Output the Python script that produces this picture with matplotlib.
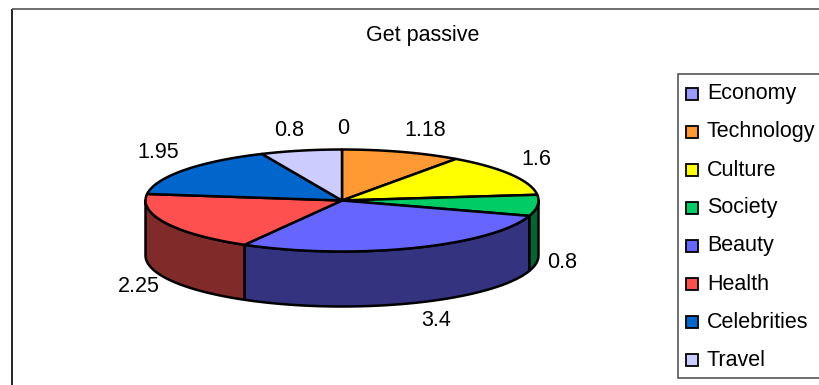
import numpy as np
import matplotlib
matplotlib.use("Agg")
import matplotlib.pyplot as plt
from matplotlib.patches import Polygon, Rectangle

categories = ["Economy", "Technology", "Culture", "Society", "Beauty", "Health", "Celebrities", "Travel"]
values = [0, 1.18, 1.6, 0.8, 3.4, 2.25, 1.95, 0.8]
value_labels = ["0", "1.18", "1.6", "0.8", "3.4", "2.25", "1.95", "0.8"]
top_colors = ["#9999FF", "#FF9933", "#FFFF00", "#00CC66", "#6666FF", "#FF5050", "#0066CC", "#CCCCFF"]
side_colors = ["#4D4D80", "#804D1A", "#808000", "#006633", "#333380", "#802A2A", "#003366", "#666680"]

plt.rcParams["font.family"] = ["Liberation Sans", "DejaVu Sans"]

# pixel coordinates, y going down, same as the picture
fig = plt.figure(figsize=(8.2, 3.85), dpi=100)
ax = fig.add_axes([0, 0, 1, 1])
ax.set_xlim(0, 820)
ax.set_ylim(385, 0)
ax.axis("off")

# chart frame
ax.plot([12, 12], [385, 8.5], color="black", lw=1.2, solid_capstyle="butt")
ax.plot([12, 820], [8.5, 8.5], color="#555555", lw=1.2, solid_capstyle="butt")

ax.text(423, 36, "Get passive", ha="center", va="center", fontsize=15.5)

# fake 3d pie
cx, cy = 342, 200.5
rx, ry = 196.5, 51
depth = 55
edge_lw = 1.8


def rim(start, end, n=60):
    t = np.radians(np.linspace(start, end, n))
    return cx + rx * np.sin(t), cy - ry * np.cos(t)


angles = np.cumsum([0] + values) / sum(values) * 360

# side walls, only the front half of the rim shows
for i in range(len(values)):
    start = max(angles[i], 90)
    end = min(angles[i + 1], 270)
    if end <= start:
        continue
    x, y = rim(start, end)
    pts = np.column_stack([np.r_[x, x[::-1]], np.r_[y, y[::-1] + depth]])
    ax.add_patch(Polygon(pts, closed=True, facecolor=side_colors[i], edgecolor="black", lw=edge_lw, joinstyle="round"))

# top face
for i in range(len(values)):
    if values[i] == 0:
        continue
    x, y = rim(angles[i], angles[i + 1])
    pts = np.column_stack([np.r_[cx, x], np.r_[cy, y]])
    ax.add_patch(Polygon(pts, closed=True, facecolor=top_colors[i], edgecolor="black", lw=edge_lw, joinstyle="round"))

# data labels
label_xy = [(343, 128), (425, 130), (536, 159.5), (562, 262), (436, 321), (139, 286), (158, 153), (289, 130)]
for lab, (lx, ly) in zip(value_labels, label_xy):
    ax.text(lx, ly, lab, ha="center", va="center", fontsize=15.5)

# legend box, runs off the right edge
ax.plot([820, 678.5, 678.5, 820], [74, 74, 377.5, 377.5], color="#555555", lw=1.2, solid_joinstyle="miter")
for i, name in enumerate(categories):
    row_y = 94 + i * 38
    ax.add_patch(Rectangle((686, row_y - 6), 12, 12, facecolor=top_colors[i], edgecolor="black", lw=1.3))
    ax.text(707, row_y, name, ha="left", va="center", fontsize=15.5)

fig.savefig("out.png", dpi=100)
